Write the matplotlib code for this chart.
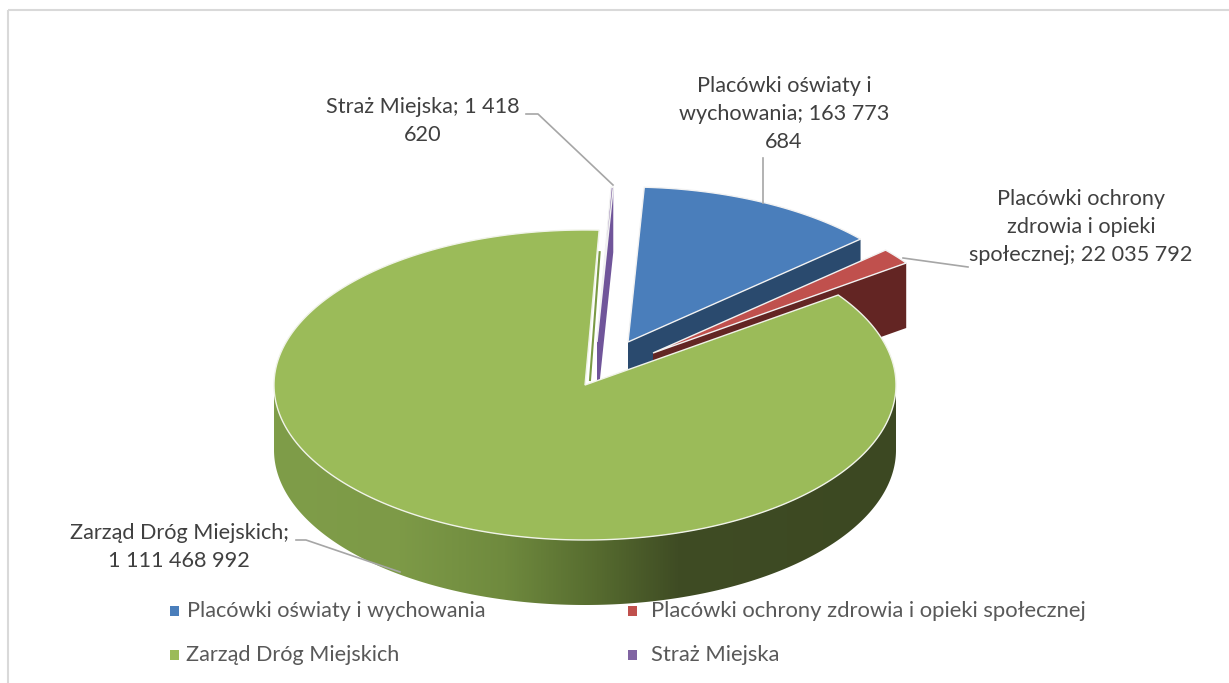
import numpy as np
import matplotlib
matplotlib.use("Agg")
import matplotlib.pyplot as plt
from matplotlib.colors import LinearSegmentedColormap
from matplotlib.patches import Polygon, Rectangle

plt.rcParams["font.family"] = ["Lato", "DejaVu Sans"]

# data
categories = [
    "Placówki oświaty i wychowania",
    "Placówki ochrony zdrowia i opieki społecznej",
    "Zarząd Dróg Miejskich",
    "Straż Miejska",
]
values = [163773684, 22035792, 1111468992, 1418620]
colors = ["#4a7ebb", "#c0504d", "#9bbb59", "#8064a2"]
wall_colors = ["#2a4a6e", "#632523", "#4f6228", "#70559a"]
data_labels = [
    "Placówki oświaty i\nwychowania; 163 773\n684",
    "Placówki ochrony\nzdrowia i opieki\nspołecznej; 22 035 792",
    "Zarząd Dróg Miejskich;\n1 111 468 992",
    "Straż Miejska; 1 418\n620",
]

# layout of the fake 3D pie, in pixels
cx, cy = 585, 385
rx, ry = 311, 155
depth = 65
start_angle = 87.0
offsets = [(43, -43), (68, -32), (0, 0), (12, -43)]
label_pos = [(784, 114), (1081, 227), (179, 547), (423, 121)]
leaders = [
    [(763, 158), (763, 203)],
    [(903, 258), (968, 267)],
    [(296, 540), (306, 540), (400, 572)],
    [(526, 114), (538, 114), (613, 185)],
]
legend_pos = [(170, 611), (628, 611), (170, 655), (628, 655)]
legend_text_x = [187, 651, 186, 651]
legend_size = [15.6, 15.85, 15.6, 15.85]

text_color = "#404040"
leader_color = "#a6a6a6"
rim_color = "#f0f3e8"


def rim(a0, a1, dx=0, dy=0, n=300):
    t = np.radians(np.linspace(a0, a1, n))
    return np.column_stack([cx + dx + rx * np.cos(t), cy + dy - ry * np.sin(t)])


fig = plt.figure(figsize=(12.29, 6.83), dpi=100)
ax = fig.add_axes([0, 0, 1, 1])
ax.set_xlim(0, 1229)
ax.set_ylim(683, 0)
ax.axis("off")

# chart frame
ax.plot([8, 8], [683, 10], color="#d9d9d9", lw=1.5, solid_capstyle="butt")
ax.plot([8, 1229], [10, 10], color="#d9d9d9", lw=1.5, solid_capstyle="butt")

# slice angles, clockwise from the start
spans = 360 * np.array(values) / np.sum(values)
ends = start_angle - np.cumsum(spans)
starts = ends + spans

# exploded slices first, the big one goes over them
for i in [0, 1, 3]:
    dx, dy = offsets[i]
    arc = rim(starts[i], ends[i], dx, dy)
    vertex = np.array([cx + dx, cy + dy])
    wall = np.array([vertex, arc[-1], arc[-1] + [0, depth], vertex + [0, depth]])
    ax.add_patch(Polygon(wall, closed=True, fc=wall_colors[i], ec="none"))
    top = np.vstack([vertex, arc])
    ax.add_patch(Polygon(top, closed=True, fc=colors[i], ec="#f2f2f2", lw=1.0))

# side wall of the big slice with its gradient
front = rim(0, -180)
side = np.vstack([front, (front + [0, depth])[::-1]])
side_patch = Polygon(side, closed=True, fc="none", ec="none")
ax.add_patch(side_patch)
side_cmap = LinearSegmentedColormap.from_list("side", [
    (0.00, "#7f9d49"),
    (0.20, "#7d9a47"),
    (0.37, "#6f8a3e"),
    (0.52, "#566b2f"),
    (0.65, "#3f4c24"),
    (1.00, "#3c4822"),
])
im = ax.imshow(np.linspace(0, 1, 512)[None, :], cmap=side_cmap, aspect="auto",
               extent=[cx - rx, cx + rx, cy + ry + depth, cy], zorder=1.5)
im.set_clip_path(side_patch)
ax.set_xlim(0, 1229)
ax.set_ylim(683, 0)

# inner wall next to the gap, then the top face
arc = rim(starts[2], ends[2])
vertex = np.array([cx, cy])
ax.add_patch(Polygon(np.vstack([vertex, arc]), closed=True, fc=colors[2], ec=rim_color,
                     lw=1.0, zorder=2))
ax.plot([cx + 5, arc[-1][0] + 0.5], [cy - 5, arc[-1][1] + 22], color="#7a9a45", lw=1.5, zorder=2.1)

# labels and leader lines
for lab, (x, y) in zip(data_labels, label_pos):
    ax.text(x, y, lab, ha="center", va="center", fontsize=15.6, color=text_color,
            linespacing=1.5, zorder=3)
for line in leaders:
    pts = np.array(line)
    ax.plot(pts[:, 0], pts[:, 1], color=leader_color, lw=1.2, zorder=2.5)

# legend
for name, col, (x, y), tx, fs in zip(categories, colors, legend_pos, legend_text_x, legend_size):
    ax.add_patch(Rectangle((x, y - 5), 9, 10, fc=col, ec="none", zorder=3))
    ax.text(tx, y, name, ha="left", va="center", fontsize=fs, color="#595959", zorder=3)

fig.savefig("out.png", dpi=100)
